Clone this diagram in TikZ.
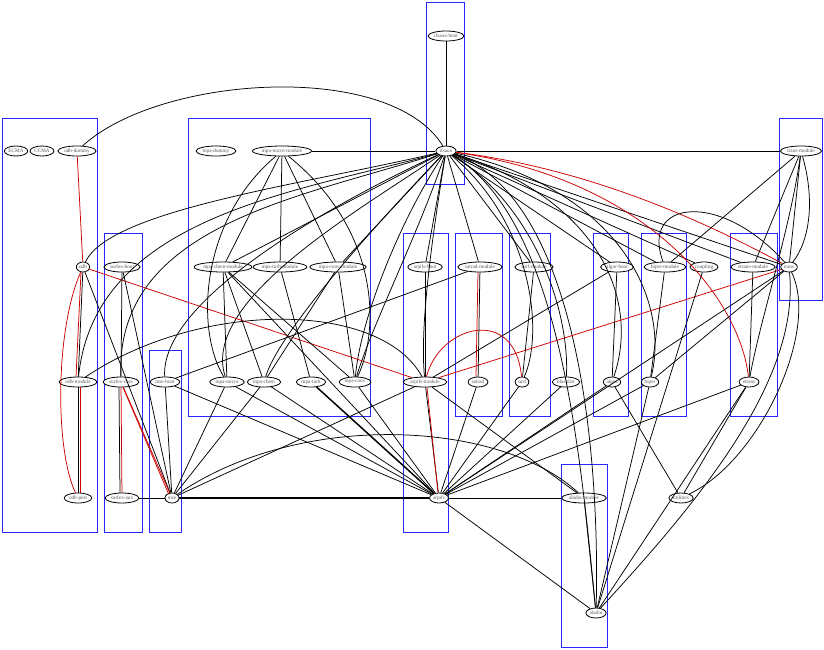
\documentclass[tikz,border=0pt]{standalone}
\usepackage{fontspec}
\setmainfont{Liberation Serif}
\usetikzlibrary{shapes.geometric}
\begin{document}
\begin{tikzpicture}[x=1pt,y=-1pt,
  nd/.style={ellipse,draw,fill=white,line width=0.8pt,inner xsep=0.8pt,inner ysep=0.3pt,minimum height=10pt,font=\fontsize{5.2}{5.5}\selectfont,text=black!65},
  cl/.style={draw=blue!85!white,line width=0.8pt},
  ed/.style={line width=0.75pt},
  re/.style={line width=0.75pt,red!80!black}]
\useasboundingbox (0,0) rectangle (824,649);
% clusters
\draw[cl] (426,2) rectangle (464,184);
\draw[cl] (2,118) rectangle (97,532);
\draw[cl] (104,233) rectangle (142,532);
\draw[cl] (149,350) rectangle (181,532);
\draw[cl] (188,118) rectangle (370,416);
\draw[cl] (403,233) rectangle (448,532);
\draw[cl] (455,233) rectangle (502,416);
\draw[cl] (509,233) rectangle (550,416);
\draw[cl] (593,233) rectangle (628,416);
\draw[cl] (641,233) rectangle (686,416);
\draw[cl] (730,233) rectangle (777,416);
\draw[cl] (779,118) rectangle (822,300);
\draw[cl] (561,464) rectangle (607,647);
% nodes (coordinates only, drawn last)
\coordinate (c-ifsauxboot) at (446,36);
\node[nd] (ifsauxboot) at (446,36) {ifsaux-boot};
\node[nd] (ifsaux) at (446,151) {ifsaux};
\node[nd] (ECMA) at (16,151) {ECMA};
\node[nd] (CCMA) at (42,151) {CCMA};
\node[nd] (odbdummy) at (77,151) {odb-dummy};
\node[nd] (odb) at (83,267) {odb};
\node[nd] (odbmodule) at (78,382) {odb-module};
\node[nd] (odbport) at (78,498) {odb-port};
\node[nd] (surfexboot) at (122,267) {surfex-boot};
\node[nd] (surfexcore) at (121,382) {surfex-core};
\node[nd] (surfexaux) at (122,498) {surfex-aux};
\node[nd] (mseboot) at (165,382) {mse-boot};
\node[nd] (mse) at (172,498) {mse};
\node[nd] (mpadummy) at (216,151) {mpa-dummy};
\node[nd] (mpamicromodule) at (282,151) {mpa-micro-module};
\node[nd] (mpachemmodule) at (223,267) {mpa-chem-module};
\node[nd] (mpaturbmodule) at (280,267) {mpa-turb-module};
\node[nd] (mpaconvmodule) at (338,267) {mpa-conv-module};
\node[nd] (mpamicro) at (227,382) {mpa-micro};
\node[nd] (mpachem) at (264,382) {mpa-chem};
\node[nd] (mpaturb) at (311,382) {mpa-turb};
\node[nd] (mpaconv) at (355,382) {mpa-conv};
\node[nd] (arpifsboot) at (425,267) {arpifs-boot};
\node[nd] (arpifsmodule) at (425,382) {arpifs-module};
\node[nd] (arpifs) at (439,498) {arpifs};
\node[nd] (satradmodule) at (480,267) {satrad-module};
\node[nd] (satrad) at (478,382) {satrad};
\node[nd] (surfmodule) at (534,267) {surf-module};
\node[nd] (surf) at (522,382) {surf};
\node[nd] (blacklist) at (566,382) {blacklist};
\node[nd] (algorboot) at (617,267) {algor-boot};
\node[nd] (algor) at (612,382) {algor};
\node[nd] (bipermodule) at (665,267) {biper-module};
\node[nd] (biper) at (650,382) {biper};
\node[nd] (coupling) at (704,267) {coupling};
\node[nd] (etransmodule) at (753,267) {etrans-module};
\node[nd] (etrans) at (749,382) {etrans};
\node[nd] (transmodule) at (801,151) {trans-module};
\node[nd] (trans) at (789,267) {trans};
\node[nd] (aladinmodule) at (584,498) {aladin-module};
\node[nd] (aladin) at (596,613) {aladin};
\node[nd] (utilities) at (681,498) {utilities};
% ifsaux edges
\draw[ed] (ifsauxboot) -- (ifsaux);
\draw[ed] (odbdummy) .. controls (160,75) and (390,60) .. (ifsaux);
\draw[ed] (mpamicromodule) -- (ifsaux);
\draw[ed] (ifsaux) -- (transmodule);
\draw[ed] (ifsaux) .. controls (300,185) and (110,210) .. (odb);
\draw[ed] (ifsaux) .. controls (300,192) and (95,215) .. (odbmodule);
\draw[ed] (ifsaux) .. controls (300,198) and (115,225) .. (surfexcore);
\draw[ed] (ifsaux) .. controls (330,205) and (160,300) .. (mseboot);
\draw[ed] (ifsaux) -- (mpachemmodule);
\draw[ed] (ifsaux) -- (mpaconvmodule);
\draw[ed] (ifsaux) .. controls (360,210) and (200,300) .. (mpamicro);
\draw[ed] (ifsaux) .. controls (380,220) and (280,330) .. (mpachem);
\draw[ed] (ifsaux) .. controls (400,220) and (360,320) .. (mpaconv);
\draw[ed] (ifsaux) .. controls (420,230) and (370,330) .. (mpaconv);
\draw[ed] (ifsaux) -- (arpifsboot);
\draw[ed] (ifsaux) .. controls (430,250) and (420,330) .. (arpifsmodule);
\draw[ed] (ifsaux) -- (satradmodule);
\draw[ed] (ifsaux) -- (surfmodule);
\draw[ed] (ifsaux) .. controls (530,220) and (545,330) .. (surf);
\draw[ed] (ifsaux) .. controls (540,210) and (570,320) .. (blacklist);
\draw[ed] (ifsaux) -- (algorboot);
\draw[ed] (ifsaux) -- (bipermodule);
\draw[ed] (ifsaux) -- (coupling);
\draw[ed] (ifsaux) -- (etransmodule);
\draw[ed] (ifsaux) .. controls (600,200) and (640,300) .. (algor);
\draw[ed] (ifsaux) .. controls (620,190) and (670,300) .. (biper);
\draw[ed] (ifsaux) .. controls (560,220) and (580,450) .. (aladin);
\draw[ed] (ifsaux) .. controls (580,200) and (600,460) .. (aladin);
\draw[ed] (ifsaux) -- (trans);
\draw[re] (ifsaux) .. controls (600,170) and (720,230) .. (trans);
\draw[re] (ifsaux) .. controls (650,180) and (740,300) .. (etrans);
% odb
\draw[re] (odbdummy) -- (odb);
\draw[ed] (odb) -- (odbmodule);
\draw[re] ([xshift=-2pt]odb.south) -- ([xshift=-2pt]odbmodule.north);
\draw[re] (odb) .. controls (55,330) and (55,450) .. (odbport);
\draw[ed] (odbmodule) -- (odbport);
\draw[re] ([xshift=2pt]odbmodule.south) -- ([xshift=2pt]odbport.north);
\draw[re] (odb) -- (arpifsmodule);
\draw[ed] (odb) -- (mse);
\draw[ed] (odbmodule) .. controls (200,300) and (380,300) .. (arpifsmodule);
% surfex / mse
\draw[ed] (surfexboot) -- (surfexcore);
\draw[ed] (surfexboot) -- (mse);
\draw[re] (surfexcore) -- (mse);
\draw[re] ([xshift=2pt]surfexcore.south) -- ([xshift=2pt]mse.north west);
\draw[re] (surfexcore) -- (surfexaux);
\draw[ed] ([xshift=-2pt]surfexcore.south) -- ([xshift=-2pt]surfexaux.north);
\draw[ed] (surfexaux) -- (mse);
\draw[ed] (mseboot) -- (mse);
\draw[ed] (mseboot) -- (satradmodule);
\draw[ed] (mseboot) -- (arpifs);
\draw[ed,line width=1.2pt] (mse) -- (arpifs);
\draw[ed] (mse) -- (mpamicro);
\draw[ed] (mse) -- (mpachem);
\draw[ed] (mse) -- (arpifsmodule);
\draw[ed] (mse) .. controls (300,410) and (500,420) .. (aladinmodule);
% mpa
\draw[ed] (mpamicromodule) -- (mpachemmodule);
\draw[ed] (mpamicromodule) -- (mpaturbmodule);
\draw[ed] (mpamicromodule) -- (mpaconvmodule);
\draw[ed] (mpamicromodule) .. controls (200,220) and (195,330) .. (mpamicro);
\draw[ed] (mpamicromodule) .. controls (380,230) and (380,330) .. (mpaconv);
\draw[ed] (mpachemmodule) -- (mpamicro);
\draw[ed] (mpachemmodule) -- (mpachem);
\draw[ed] (mpachemmodule) -- (mpaconv);
\draw[ed] (mpachemmodule) -- (arpifs);
\draw[ed] (mpaturbmodule) -- (mpaturb);
\draw[ed] (mpaconvmodule) -- (mpaconv);
\draw[ed] (mpaconvmodule) -- (mpachem);
\draw[ed] (mpamicro) -- (arpifs);
\draw[ed] (mpachem) -- (arpifs);
\draw[ed,line width=1.5pt] (mpaturb) -- (arpifs);
\draw[ed] (mpaconv) -- (arpifs);
% arpifs
\draw[ed] (arpifsboot) -- (arpifsmodule);
\draw[ed] (arpifsmodule) -- (arpifs);
\draw[re] ([xshift=2pt]arpifsmodule.south) -- ([xshift=-1pt]arpifs.north);
\draw[ed] (arpifsmodule) -- (algorboot);
\draw[re] (arpifsmodule) .. controls (440,325) and (515,305) .. (surf);
\draw[re] (arpifsmodule) -- (trans);
\draw[ed] (arpifsmodule) -- (aladinmodule);
\draw[ed] (arpifs) -- (aladinmodule);
\draw[ed] (arpifs) -- (aladin);
\draw[ed] (satradmodule) -- (satrad);
\draw[re] ([xshift=-2pt]satradmodule.south) -- ([xshift=-2pt]satrad.north);
\draw[ed] (satrad) -- (arpifs);
\draw[ed] (surfmodule) -- (surf);
\draw[ed] (surf) -- (arpifs);
\draw[ed] (blacklist) -- (arpifs);
\draw[ed] (algorboot) -- (algor);
\draw[ed] (algor) -- (arpifs);
\draw[ed] (algor) -- (utilities);
\draw[ed] (bipermodule) -- (biper);
\draw[ed] (biper) -- (arpifs);
\draw[ed] (biper) -- (aladin);
\draw[ed] (coupling) -- (aladin);
\draw[ed] (etransmodule) -- (etrans);
\draw[ed] (etrans) -- (arpifs);
\draw[ed] (etrans) -- (aladin);
\draw[ed] (etrans) -- (utilities);
\draw[ed] (aladinmodule) -- (aladin);
% trans
\draw[ed] (transmodule) -- (trans);
\draw[ed] (transmodule) .. controls (815,200) and (810,240) .. (trans);
\draw[ed] (transmodule) -- (etransmodule);
\draw[ed] (transmodule) -- (bipermodule);
\draw[ed] (transmodule) .. controls (790,230) and (760,320) .. (etrans);
\draw[ed] (trans) -- (biper);
\draw[ed] (trans) .. controls (720,190) and (640,200) .. (bipermodule);
\draw[ed] (trans) .. controls (820,330) and (760,460) .. (utilities);
\draw[ed] (trans) .. controls (800,380) and (700,500) .. (aladin);
\draw[ed] (trans) -- (arpifs);
\end{tikzpicture}
\end{document}
